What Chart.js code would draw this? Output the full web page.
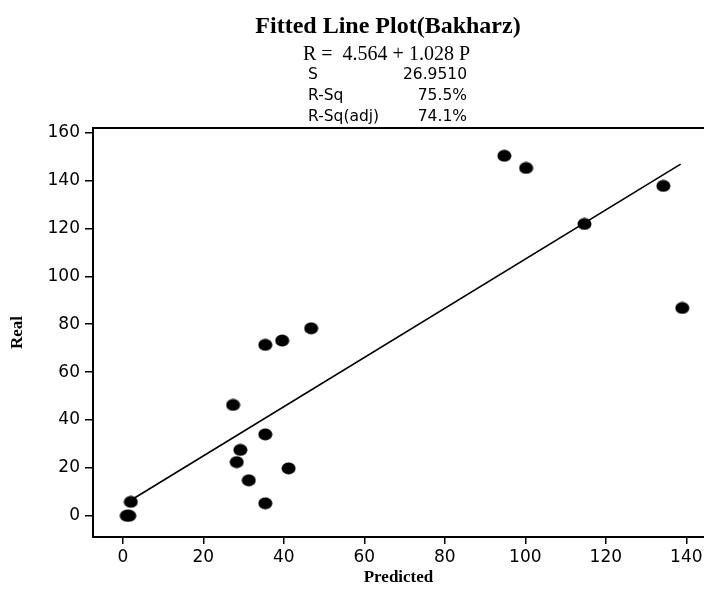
<!DOCTYPE html>
<html>
<head>
<meta charset="utf-8">
<script src="https://cdn.jsdelivr.net/npm/chart.js@4.4.1/dist/chart.umd.min.js"></script>
<style>
  html, body { margin: 0; padding: 0; background: #fff; }
  #wrap { width: 704px; height: 591px; }
</style>
</head>
<body>
<div id="wrap"><canvas id="chartFit" width="704" height="591"></canvas></div>
<script>
// data
const predicted = [1.0, 1.6, 2.0, 27.4, 28.3, 29.2, 31.3, 35.4, 35.4, 35.4, 39.6, 41.2, 46.8, 94.8, 100.2, 114.7, 134.3, 139.0];
const real      = [0.0, 0.0, 5.8, 46.3, 22.4, 27.5, 14.8, 34.0, 5.2, 71.4, 73.2, 19.8, 78.3, 150.4, 145.3, 121.9, 137.8, 86.8];

// fitted line ends
const fitX = [2.5, 138.6];
const fitY = [7.0, 146.9];

const xTicks = [0, 20, 40, 60, 80, 100, 120, 140];
const yTicks = [0, 20, 40, 60, 80, 100, 120, 140, 160];

const titleText = "Fitted Line Plot(Bakharz)";
const equationText = "R =  4.564 + 1.028 P";
const statLabels = ["S", "R-Sq", "R-Sq(adj)"];
const statValues = ["26.9510", "75.5%", "74.1%"];

// filled ellipse used as the marker
function makeDot() {
    const c = document.createElement("canvas");
    c.width = 15;
    c.height = 13;
    const ctx = c.getContext("2d");
    ctx.fillStyle = "#000";
    ctx.beginPath();
    ctx.ellipse(7.5, 6.5, 7, 6, 0, 0, Math.PI * 2);
    ctx.fill();
    return c;
}

const headerPlugin = {
    id: "header",
    afterDraw(chart) {
        const ctx = chart.ctx;
        const area = chart.chartArea;
        ctx.save();
        ctx.fillStyle = "#000";
        ctx.textBaseline = "alphabetic";

        ctx.font = "bold 24px 'Liberation Serif'";
        ctx.textAlign = "center";
        ctx.fillText(titleText, 388, 33);

        ctx.font = "20px 'Liberation Serif'";
        ctx.textAlign = "left";
        ctx.fillText(equationText, 303, 60);

        ctx.font = "15.5px 'DejaVu Sans'";
        statLabels.forEach((lbl, i) => {
            const y = 79 + i * 21;
            ctx.textAlign = "left";
            ctx.fillText(lbl, 308, y);
            ctx.textAlign = "right";
            ctx.fillText(statValues[i], 467, y);
        });

        // top frame line
        ctx.strokeStyle = "#000";
        ctx.lineWidth = 2;
        ctx.beginPath();
        ctx.moveTo(area.left - 1, area.top);
        ctx.lineTo(chart.width, area.top);
        ctx.stroke();
        ctx.restore();
    }
};

function initFitChart() {
    const canvas = document.getElementById("chartFit");
    const dot = makeDot();

    const points = predicted.map((p, i) => ({ x: p, y: real[i] }));
    const line = fitX.map((p, i) => ({ x: p, y: fitY[i] }));

    new Chart(canvas, {
        type: "scatter",
        data: {
            datasets: [
                {
                    data: line,
                    showLine: true,
                    borderColor: "#000",
                    borderWidth: 1.6,
                    pointRadius: 0
                },
                {
                    data: points,
                    pointStyle: dot,
                    pointRadius: 7
                }
            ]
        },
        plugins: [headerPlugin],
        options: {
            responsive: false,
            animation: false,
            layout: { autoPadding: false, padding: { top: 128, left: 0, right: 0, bottom: 0 } },
            plugins: {
                legend: { display: false },
                tooltip: { enabled: false }
            },
            scales: {
                x: {
                    type: "linear",
                    min: -7.4,
                    max: 144.4,
                    afterBuildTicks: s => { s.ticks = xTicks.map(v => ({ value: v })); },
                    afterFit: s => { s.height = 54; s.paddingLeft = 0; s.paddingRight = 0; },
                    grid: { drawOnChartArea: false, tickLength: 7, color: "#000", lineWidth: 1.5 },
                    border: { color: "#000", width: 2 },
                    ticks: { color: "#000", font: { family: "DejaVu Sans", size: 17 }, padding: 3, maxRotation: 0 },
                    title: {
                        display: true,
                        text: "Predicted",
                        color: "#000",
                        font: { family: "Liberation Serif", weight: "bold", size: 17 },
                        padding: { top: 0, bottom: 3 }
                    }
                },
                y: {
                    type: "linear",
                    min: -8.9,
                    max: 162,
                    afterBuildTicks: s => { s.ticks = yTicks.map(v => ({ value: v })); },
                    afterFit: s => { s.width = 93; s.paddingTop = 0; s.paddingBottom = 0; },
                    grid: { drawOnChartArea: false, tickLength: 8, color: "#000", lineWidth: 1.5 },
                    border: { color: "#000", width: 2 },
                    ticks: { color: "#000", font: { family: "DejaVu Sans", size: 17 }, padding: 5 },
                    title: {
                        display: true,
                        text: "Real",
                        color: "#000",
                        font: { family: "Liberation Serif", weight: "bold", size: 17 },
                        padding: { top: 7, bottom: 0 }
                    }
                }
            }
        }
    });
}

document.addEventListener("DOMContentLoaded", initFitChart);
</script>
</body>
</html>
